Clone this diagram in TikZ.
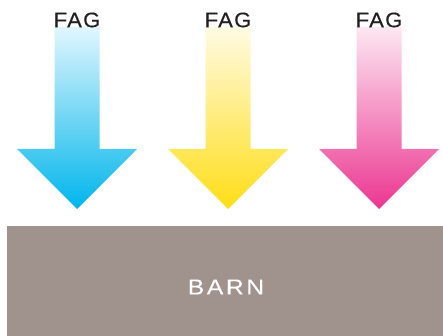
\documentclass[tikz,border=0pt]{standalone}
\usepackage{fontspec}
\setmainfont{Liberation Sans}

\definecolor{fagcyan}{HTML}{00B5EC}
\definecolor{fagyellow}{HTML}{FFDD17}
\definecolor{fagmagenta}{HTML}{EC3590}
\definecolor{fagtext}{HTML}{231F20}
\definecolor{barngray}{HTML}{A0928D}

\begin{document}
\begin{tikzpicture}[x=1pt, y=-1pt,
    fag/.style = {text=fagtext, inner sep=0pt,
        font=\fontsize{21}{21}\selectfont\addfontfeature{FakeStretch=1.05, FakeBold=0.4, LetterSpace=6}},
    barn/.style = {text=white, inner sep=0pt,
        font=\fontsize{21.5}{21.5}\selectfont\addfontfeature{FakeStretch=1.15, FakeBold=0.2, LetterSpace=12}}]
    \useasboundingbox (0,0) rectangle (443,336);

    % arrows with labels
    \foreach \cx/\col [count=\i] in {77/fagcyan, 228/fagyellow, 379/fagmagenta} {
        \shade[top color=\col!12, bottom color=\col]
            (\cx-22.5,27) -- (\cx+22.5,27) -- (\cx+22.5,149) -- (\cx+60,149)
            -- (\cx,209) -- (\cx-60,149) -- (\cx-22.5,149) -- cycle;
        \node[fag] (fag\i) at (\cx,20) {FAG};
    }

    % bottom box
    \fill[barngray] (7,226) rectangle (443,336);
    \node[barn] (barn) at (226,287) {BARN};
\end{tikzpicture}
\end{document}
